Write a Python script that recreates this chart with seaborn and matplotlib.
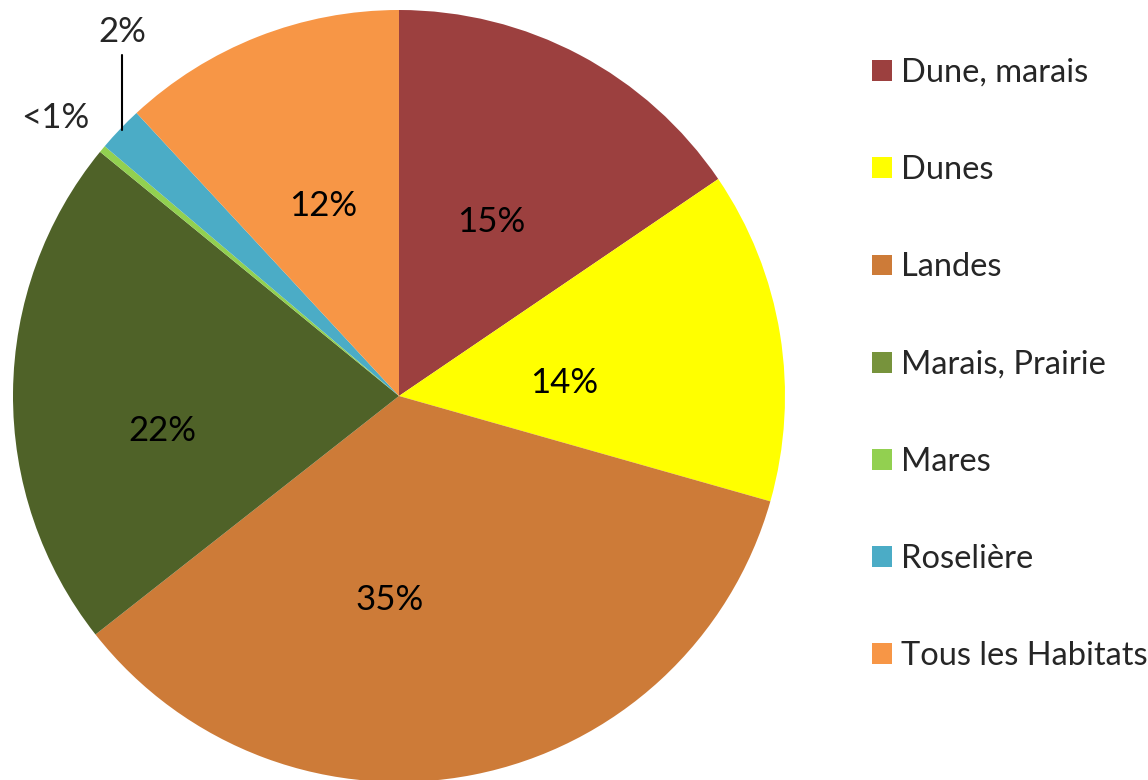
import numpy as np
import matplotlib
matplotlib.use("Agg")
import matplotlib.pyplot as plt
import seaborn as sns
from matplotlib.patches import Patch

# data (share in %, clockwise from 12 o'clock)
habitats = ["Dune, marais", "Dunes", "Landes", "Marais, Prairie", "Mares", "Roselière", "Tous les Habitats"]
shares = [15.5, 13.9, 35.0, 21.5, 0.3, 1.9, 11.9]
pct_labels = ["15%", "14%", "35%", "22%", "<1%", "2%", "12%"]
slice_colors = ["#9c403f", "#ffff00", "#cd7b38", "#4f6228", "#92d050", "#4bacc6", "#f79646"]
legend_colors = ["#9c403f", "#ffff00", "#cd7b38", "#77933c", "#92d050", "#4bacc6", "#f79646"]

sns.set_style("white")
plt.rcParams["font.family"] = ["Lato", "DejaVu Sans"]

fig = plt.figure(figsize=(11.48, 7.80), dpi=100)
cx, cy, r = 399, 396, 386
ax = fig.add_axes([(cx - r) / 1148, (780 - cy - r) / 780, 2 * r / 1148, 2 * r / 780])

wedges, _ = ax.pie(shares, colors=slice_colors, startangle=90, counterclock=False,
                   radius=1, wedgeprops=dict(linewidth=0))
ax.set_xlim(-1, 1)
ax.set_ylim(-1, 1)
ax.set_aspect("equal")
ax.axis("off")

# inside labels: radial distance and small angle tweak per slice
inside = {0: (0.51, 0), 1: (0.43, -4.8), 2: (0.53, -13.7), 3: (0.62, 9), 6: (0.53, 0.4)}
for i, (rad, dth) in inside.items():
    w = wedges[i]
    th = np.deg2rad((w.theta1 + w.theta2) / 2 + dth)
    ax.text(rad * np.cos(th), rad * np.sin(th), pct_labels[i], ha="center", va="center",
            fontsize=25, color="black")

# outside labels for the thin slices
ax.text(-0.718, 0.943, pct_labels[5], ha="center", va="center", fontsize=25)
ax.plot([-0.718, -0.718], [0.883, 0.689], color="black", lw=1.5, clip_on=False)
ax.text(-0.891, 0.72, pct_labels[4], ha="center", va="center", fontsize=25)

handles = [Patch(facecolor=c, edgecolor="none") for c in legend_colors]
fig.legend(handles, habitats, loc="upper left", bbox_to_anchor=(872 / 1148, 1 - 58 / 780),
           frameon=False, fontsize=23.5, handlelength=0.61, handleheight=0.61,
           handletextpad=0.28, labelspacing=2.06, borderpad=0, borderaxespad=0)

fig.savefig("out.png", dpi=100)
